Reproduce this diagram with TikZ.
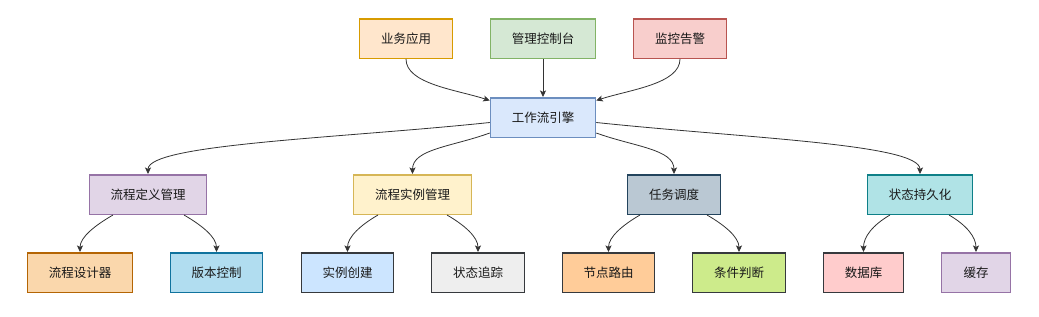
\documentclass[tikz,border=0pt]{standalone}
\usepackage{fontspec}
\setmainfont{Noto Sans CJK SC}
\usetikzlibrary{arrows.meta}
\definecolor{bizF}{HTML}{FFE6CC}\definecolor{bizD}{HTML}{D79B00}
\definecolor{grnF}{HTML}{D5E8D4}\definecolor{grnD}{HTML}{82B366}
\definecolor{redF}{HTML}{F8CECC}\definecolor{redD}{HTML}{B85450}
\definecolor{bluF}{HTML}{DAE8FC}\definecolor{bluD}{HTML}{6C8EBF}
\definecolor{purF}{HTML}{E1D5E7}\definecolor{purD}{HTML}{9673A6}
\definecolor{yelF}{HTML}{FFF2CC}\definecolor{yelD}{HTML}{D6B656}
\definecolor{slaF}{HTML}{BAC8D3}\definecolor{slaD}{HTML}{23445D}
\definecolor{teaF}{HTML}{B0E3E6}\definecolor{teaD}{HTML}{0E8088}
\definecolor{oraF}{HTML}{FAD7AC}\definecolor{oraD}{HTML}{B46504}
\definecolor{skyF}{HTML}{B1DDF0}\definecolor{skyD}{HTML}{10739E}
\definecolor{ltbF}{HTML}{CCE5FF}\definecolor{gryD}{HTML}{36393D}
\definecolor{gryF}{HTML}{EEEEEE}
\definecolor{peaF}{HTML}{FFCC99}
\definecolor{limF}{HTML}{CDEB8B}
\definecolor{pnkF}{HTML}{FFCCCC}
\begin{document}
\begin{tikzpicture}[x=1pt,y=1pt,
  box/.style={draw, line width=1.5pt, minimum height=39.5pt, inner sep=0pt,
    font=\fontsize{12.5}{15}\selectfont, text=black!90},
  edge/.style={draw=black!80, line width=0.8pt,
    -{Stealth[length=6.5pt,width=6pt,inset=1.5pt]}}]
\useasboundingbox (0,0) rectangle (1039,-316);
% top row
\node[box, fill=bizF, draw=bizD, minimum width=93pt] (biz) at (406,-38.5) {业务应用};
\node[box, fill=grnF, draw=grnD, minimum width=105pt] (mgmt) at (543,-38.5) {管理控制台};
\node[box, fill=redF, draw=redD, minimum width=93pt] (mon) at (680,-38.5) {监控告警};
% engine
\node[box, fill=bluF, draw=bluD, minimum width=105pt] (eng) at (543,-117.5) {工作流引擎};
% middle row
\node[box, fill=purF, draw=purD, minimum width=117pt] (def) at (148,-194.5) {流程定义管理};
\node[box, fill=yelF, draw=yelD, minimum width=118pt] (inst) at (412.5,-194.5) {流程实例管理};
\node[box, fill=slaF, draw=slaD, minimum width=93pt] (sched) at (674,-194.5) {任务调度};
\node[box, fill=teaF, draw=teaD, minimum width=105pt] (pers) at (920,-194.5) {状态持久化};
% bottom row
\node[box, fill=oraF, draw=oraD, minimum width=105pt] (des) at (80,-272.5) {流程设计器};
\node[box, fill=skyF, draw=skyD, minimum width=92pt] (ver) at (216.5,-272.5) {版本控制};
\node[box, fill=ltbF, draw=gryD, minimum width=92pt] (cre) at (347.5,-272.5) {实例创建};
\node[box, fill=gryF, draw=gryD, minimum width=93pt] (trk) at (478,-272.5) {状态追踪};
\node[box, fill=peaF, draw=gryD, minimum width=92pt] (route) at (608.5,-272.5) {节点路由};
\node[box, fill=limF, draw=gryD, minimum width=93pt] (cond) at (739,-272.5) {条件判断};
\node[box, fill=pnkF, draw=gryD, minimum width=80pt] (db) at (863.5,-272.5) {数据库};
\node[box, fill=purF, draw=purD, minimum width=69pt] (cache) at (976,-272.5) {缓存};
% edges top -> engine
\draw[edge] (biz.south) .. controls +(270:25) and +(162:35) .. ([yshift=17pt]eng.west);
\draw[edge] (mgmt.south) -- (eng.north);
\draw[edge] (mon.south) .. controls +(270:25) and +(18:35) .. ([yshift=17pt]eng.east);
% engine -> middle
\draw[edge] ([yshift=-5pt]eng.west) .. controls +(186:150) and +(90:30) .. (def.north);
\draw[edge] ([yshift=-15.5pt]eng.west) .. controls +(200:40) and +(90:25) .. (inst.north);
\draw[edge] ([yshift=-15.5pt]eng.east) .. controls +(-20:40) and +(90:25) .. (sched.north);
\draw[edge] ([yshift=-5pt]eng.east) .. controls +(-6:150) and +(90:30) .. (pers.north);
% middle -> bottom
\draw[edge] ([xshift=-35pt]def.south) .. controls +(210:20) and +(90:15) .. (des.north);
\draw[edge] ([xshift=36pt]def.south) .. controls +(-30:20) and +(90:15) .. (ver.north);
\draw[edge] ([xshift=-34.5pt]inst.south) .. controls +(210:20) and +(90:15) .. (cre.north);
\draw[edge] ([xshift=34.5pt]inst.south) .. controls +(-30:20) and +(90:15) .. (trk.north);
\draw[edge] ([xshift=-34pt]sched.south) .. controls +(210:20) and +(90:15) .. (route.north);
\draw[edge] ([xshift=33pt]sched.south) .. controls +(-30:20) and +(90:15) .. (cond.north);
\draw[edge] ([xshift=-30pt]pers.south) .. controls +(210:20) and +(90:15) .. (db.north);
\draw[edge] ([xshift=29pt]pers.south) .. controls +(-30:20) and +(90:15) .. (cache.north);
\end{tikzpicture}
\end{document}
